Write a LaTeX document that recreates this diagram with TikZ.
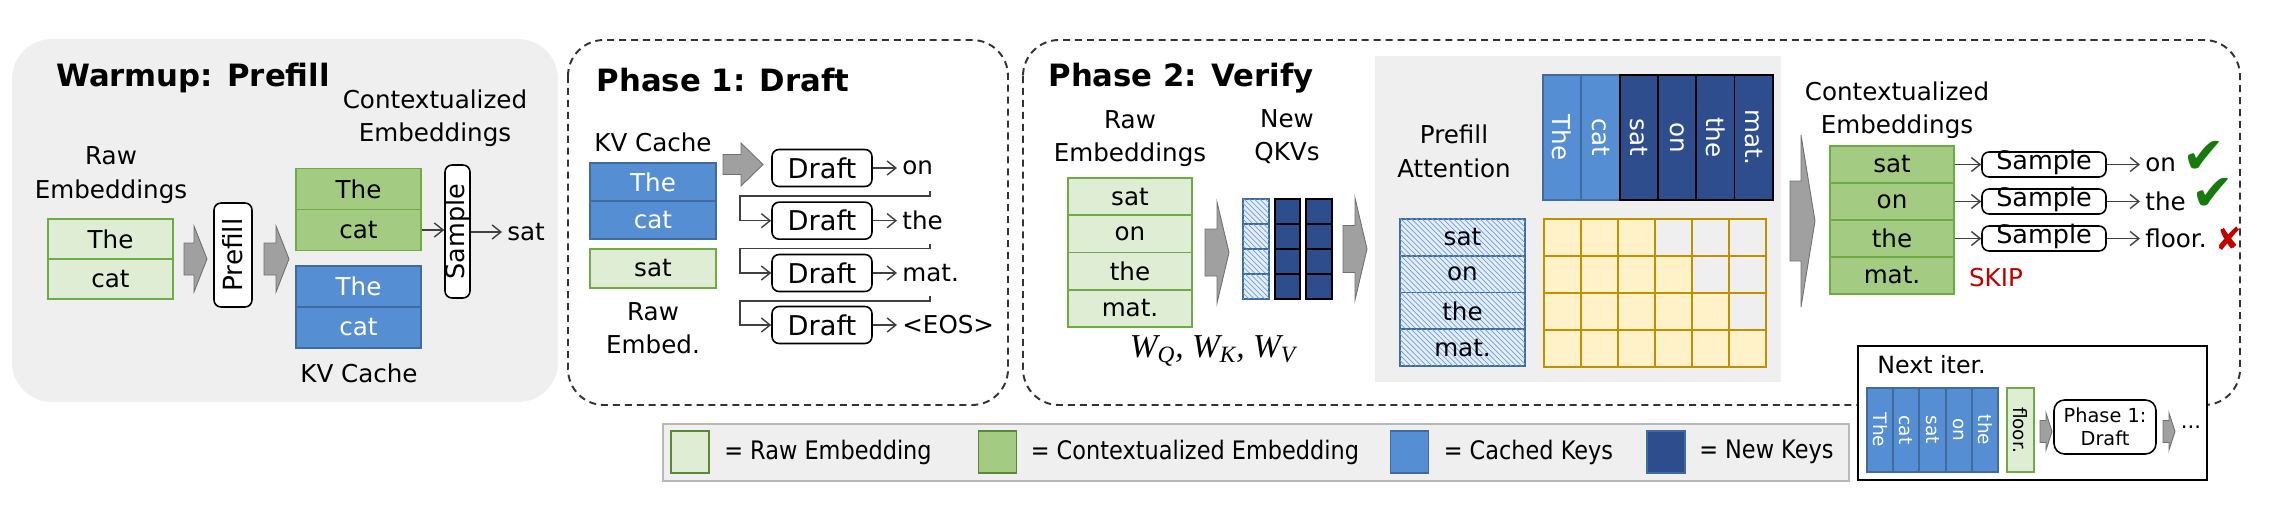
\documentclass[tikz,border=0pt]{standalone}
\usepackage{fontspec}
\setmainfont{DejaVu Sans}
\newfontfamily\legendfont{DejaVu Sans}[FakeStretch=0.88]
\newfontfamily\weightfont{Liberation Serif}
\usepackage{tikz}
\usetikzlibrary{positioning,calc,arrows.meta,patterns}
\definecolor{rawgreen}{HTML}{DFEDD5}
\definecolor{ctxgreen}{HTML}{A3CC82}
\definecolor{embedline}{HTML}{6EAA46}
\definecolor{cacheblue}{HTML}{558ED3}
\definecolor{cacheline}{HTML}{3F6C9C}
\definecolor{newblue}{HTML}{2D4D8D}
\definecolor{attnyellow}{HTML}{FFF1C8}
\definecolor{attnline}{HTML}{BF9000}
\definecolor{panelgray}{HTML}{EFEFEF}
\definecolor{arrowgray}{HTML}{A0A0A0}
\definecolor{okgreen}{HTML}{167A0C}
\definecolor{badred}{HTML}{C00000}

\tikzset{
  cell/.style={draw, line width=1.1pt, inner sep=0pt, font=\fontsize{14}{16}\selectfont},
  rawcell/.style={cell, fill=rawgreen, draw=embedline},
  ctxcell/.style={cell, fill=ctxgreen, draw=embedline},
  kvcell/.style={cell, fill=cacheblue, draw=cacheline, text=white},
  newcell/.style={cell, fill=newblue, draw=black, text=white},
  hatchcell/.style={cell, fill=cacheblue!15, draw=cacheline,
    postaction={pattern=north west lines, pattern color=cacheblue!85}},
  attncell/.style={draw=attnline, line width=1.1pt},
  title/.style={font=\fontsize{17.5}{20}\selectfont\bfseries, inner sep=0pt},
  lbl/.style={font=\fontsize{14}{19}\selectfont, align=center, inner sep=0pt},
  word/.style={font=\fontsize{14}{16}\selectfont, inner sep=0.1cm, anchor=west},
  draftbox/.style={draw, line width=0.9pt, rounded corners=4pt, fill=white, inner sep=0pt,
    minimum width=2cm, minimum height=0.74cm, font=\fontsize{15.5}{17}\selectfont},
  vbox/.style={draw, line width=0.9pt, rounded corners=4pt, fill=white, inner sep=0pt,
    rotate=90, font=\fontsize{15}{17}\selectfont},
  samplebox/.style={draw, line width=0.9pt, rounded corners=4pt, fill=white, inner sep=0pt,
    minimum width=2.48cm, minimum height=0.5cm, text height=7pt, text depth=1pt,
    font=\fontsize{14.5}{16}\selectfont},
  conn/.style={draw=black!75, line width=0.8pt, -{Straight Barb[length=5pt,width=8pt]}},
  phaseline/.style={draw=black!80, line width=1.1pt, dash pattern=on 4pt off 2.8pt,
    rounded corners=0.72cm},
  arrowfill/.style={fill=arrowgray, draw=arrowgray!70!black, line width=0.5pt},
  swatch/.style={line width=1.1pt, minimum width=0.76cm, minimum height=0.84cm, inner sep=0pt},
  legtext/.style={font=\legendfont\fontsize{14.5}{16}\selectfont, inner sep=0pt, anchor=west},
  tickmark/.style={inner sep=0pt}
}

% block arrow: x start, x tip, y centre, half head, half shaft, head length
\newcommand{\grayarrow}[6]{%
  \draw[arrowfill] (#1,#3-#5) -- (#2-#6,#3-#5) -- (#2-#6,#3-#4) -- (#2,#3)
    -- (#2-#6,#3+#4) -- (#2-#6,#3+#5) -- (#1,#3+#5) -- cycle;}

\begin{document}
\begin{tikzpicture}[x=0.02cm,y=-0.02cm]
  \useasboundingbox (0,0) rectangle (2286,510);

  % Panels
  \fill[panelgray, rounded corners=0.8cm] (12,39) rectangle (558,402);
  \draw[phaseline] (568,40) rectangle (1008,405);
  \draw[phaseline] (1023,40) rectangle (2240,405);
  \fill[panelgray] (1375,56) rectangle (1781,382);

  % Warmup: Prefill
  \node[title] (warmT) at (193,78) {Warmup: Prefill};
  \node[lbl] (warmR) at (111,175) {Raw\\Embeddings};
  \foreach \w [count=\i] in {The,cat}
    \node[rawcell, minimum width=2.5cm, minimum height=0.8cm] (wr\i) at (110.5,199+40*\i) {\w};
  \grayarrow{184}{207}{259}{33}{16}{13}
  \node[vbox, minimum width=2.08cm, minimum height=0.76cm] (prefill) at (233,255) {Prefill};
  \grayarrow{264}{289}{259}{33}{16}{13}
  \node[lbl] (warmC) at (435,118) {Contextualized\\Embeddings};
  \foreach \w [count=\i] in {The,cat}
    \node[ctxcell, minimum width=2.5cm, minimum height=0.82cm] (wc\i) at (358.5,148+41*\i) {\w};
  \foreach \w [count=\i] in {The,cat}
    \node[kvcell, minimum width=2.5cm, minimum height=0.82cm] (wk\i) at (358.5,245.5+41*\i) {\w};
  \node[lbl] (warmKV) at (359,373) {KV Cache};
  \node[vbox, minimum width=2.66cm, minimum height=0.5cm, font=\fontsize{14.5}{16}\selectfont]
    (warmS) at (457.5,231.5) {Sample};
  \node[word] (warmW) at (502,232) {sat};
  \draw[conn] (wc2.east) -- (wc2.east -| warmS.north);
  \draw[conn] (warmS.south |- warmW.west) -- (warmW.west);

  % Phase 1: Draft
  \node[title] (p1T) at (723,80) {Phase 1: Draft};
  \node[lbl] (p1KV) at (653,142) {KV Cache};
  \foreach \w [count=\i] in {The,cat}
    \node[kvcell, minimum width=2.52cm, minimum height=0.76cm] (pk\i) at (653,144+38*\i) {\w};
  \node[rawcell, minimum width=2.52cm, minimum height=0.78cm] (p1sat) at (653,268.5) {sat};
  \node[lbl] (p1R) at (653,328.5) {Raw\\Embed.};
  \grayarrow{723}{763}{164.5}{21.5}{10}{22}
  \coordinate (lane) at (740,0);
  \foreach \y/\w [count=\i] in {168/on,220.7/the,273/mat.,325/<EOS>} {
    \node[draftbox] (d\i) at (822,\y) {Draft};
    \node[word] (dw\i) at (897,\y) {\w};
    \draw[conn] (d\i.east) -- (dw\i.west);
    \coordinate (tk\i) at (930,\y+23);
  }
  \foreach \i/\j in {1/2,2/3,3/4}
    \draw[conn] (tk\i) -- ++(0,5) -| (lane |- d\j.west) -- (d\j.west);

  % Phase 2: Verify
  \node[title] (p2T) at (1181,78) {Phase 2: Verify};
  \node[lbl] (p2R) at (1130,138.5) {Raw\\Embeddings};
  \node[lbl] (p2N) at (1287,136.5) {New\\QKVs};
  \foreach \w [count=\i] in {sat,on,the,mat.}
    \node[rawcell, minimum width=2.48cm, minimum height=0.745cm] (vr\i) at (1130,159.4+37.25*\i) {\w};
  \grayarrow{1205}{1229}{252.5}{50.5}{23.5}{12}
  \foreach \r in {1,...,4} {
    \node[hatchcell, minimum width=0.52cm, minimum height=0.5cm] (q\r) at (1256,186.5+25*\r) {};
    \node[newcell, minimum width=0.5cm, minimum height=0.5cm] (k\r) at (1287.5,186.5+25*\r) {};
    \node[newcell, minimum width=0.52cm, minimum height=0.5cm] (v\r) at (1319,186.5+25*\r) {};
  }
  \node[font=\weightfont\itshape\fontsize{19}{20}\selectfont, inner sep=0pt] (wqkv) at (1213,351)
    {W\textsubscript{Q}, W\textsubscript{K}, W\textsubscript{V}};
  \grayarrow{1343}{1367}{249}{51}{23.5}{12}

  % Prefill attention
  \node[lbl] (attnL) at (1454,151.5) {Prefill\\Attention};
  \foreach \w [count=\i] in {The,cat}
    \node[kvcell, rotate=-90, minimum width=2.5cm, minimum height=0.766cm]
      (kc\i) at ({1543+38.3*(\i-0.5)},137.5) {\w};
  \foreach \w [count=\i from 3] in {sat,on,the,mat.}
    \node[newcell, rotate=-90, minimum width=2.5cm, minimum height=0.766cm]
      (kc\i) at ({1543+38.3*(\i-0.5)},137.5) {\w};
  \foreach \w [count=\i] in {sat,on,the,mat.}
    \node[hatchcell, minimum width=2.5cm, minimum height=0.735cm] (aq\i) at (1462.5,200.6+36.75*\i) {\w};
  \foreach \r in {1,...,4}
    \foreach \c in {1,...,6} {
      \pgfmathparse{\c<=\r+2 ? "attnyellow" : "panelgray"}
      \edef\cellcol{\pgfmathresult}
      \draw[attncell, fill=\cellcol] ({1544+37*(\c-1)},{219+37*(\r-1)}) rectangle ++(37,37);
    }
  \grayarrow{1790}{1815}{221}{86}{40}{14}

  % Sampling
  \node[lbl] (p2C) at (1897,110.5) {Contextualized\\Embeddings};
  \foreach \w [count=\i] in {sat,on,the,mat.}
    \node[ctxcell, minimum width=2.48cm, minimum height=0.74cm] (vc\i) at (1892,127.5+37*\i) {\w};
  \foreach \w [count=\i] in {on,the,floor.} {
    \node[samplebox] (vs\i) at (2044,127.5+37*\i) {Sample};
    \node[word] (vw\i) at (2140,127.5+37*\i) {\w};
    \draw[conn] (vc\i.east) -- (vs\i.west);
    \draw[conn] (vs\i.east) -- (vw\i.west);
  }
  \node[tickmark, text=okgreen, font=\fontsize{29}{29}\selectfont, right=0.02cm of vw1, yshift=4pt] (ok1) {✔};
  \node[tickmark, text=okgreen, font=\fontsize{29}{29}\selectfont, right=0cm of vw2, yshift=4pt] (ok2) {✔};
  \node[tickmark, text=badred, font=\fontsize{18}{18}\selectfont, right=0.06cm of vw3] (bad3) {✘};
  \node[text=badred, font=\fontsize{14}{16}\selectfont] (skip) at (1996,278) {SKIP};

  % Next iter.
  \node[draw, line width=1.2pt, fill=white, minimum width=6.98cm, minimum height=2.68cm, inner sep=0pt]
    (nextB) at (2032.5,413) {};
  \node[font=\fontsize{13.5}{16}\selectfont, inner sep=0pt, anchor=west] (nextT) at (1877,365) {Next iter.};
  \foreach \w [count=\i] in {The,cat,sat,on,the}
    \node[kvcell, rotate=-90, minimum width=1.68cm, minimum height=0.524cm, font=\fontsize{10.5}{12}\selectfont]
      (nc\i) at ({1867+26.2*(\i-0.5)},430) {\w};
  \node[rawcell, rotate=-90, minimum width=1.68cm, minimum height=0.54cm, font=\fontsize{10.5}{12}\selectfont]
    (nfloor) at (2020.5,430) {floor.};
  \grayarrow{2040}{2052}{431.5}{18.5}{11}{6}
  \node[draftbox, minimum width=2.04cm, minimum height=1.08cm, align=center, rounded corners=6pt,
    font=\fontsize{11}{13}\selectfont] (nextD) at (2105,427) {Phase 1:\\Draft};
  \grayarrow{2163}{2175}{431.5}{18.5}{11}{6}
  \node[font=\fontsize{12}{14}\selectfont] (dots) at (2191,427) {...};

  % Legend
  \draw[fill=panelgray, draw=black!28, line width=1.2pt] (663,424) rectangle (1849,481);
  \node[swatch, fill=rawgreen, draw=embedline!80!black] (lg1) at (690,452) {};
  \node[swatch, fill=ctxgreen, draw=embedline!80!black] (lg2) at (997.5,452) {};
  \node[swatch, fill=cacheblue, draw=cacheline] (lg3) at (1409.5,452) {};
  \node[swatch, fill=newblue, draw=cacheline] (lg4) at (1666,452) {};
  \node[legtext, right=0.28cm of lg1] (lt1) {= Raw Embedding};
  \node[legtext, right=0.26cm of lg2] (lt2) {= Contextualized Embedding};
  \node[legtext, right=0.28cm of lg3] (lt3) {= Cached Keys};
  \node[legtext, right=0.26cm of lg4] (lt4) {= New Keys};
\end{tikzpicture}
\end{document}
